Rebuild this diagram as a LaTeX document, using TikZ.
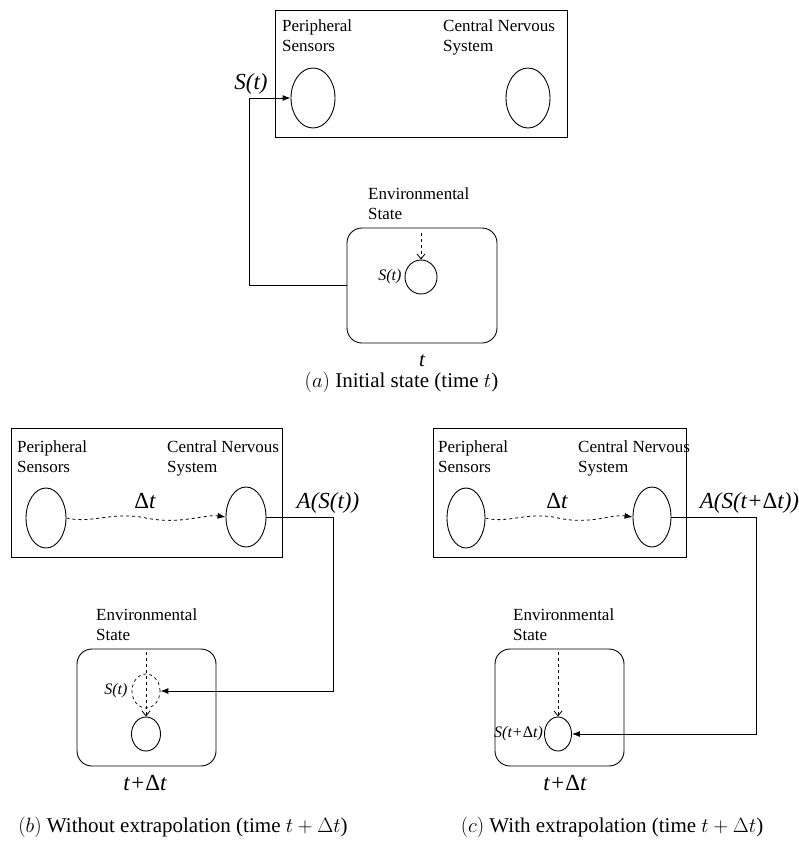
\documentclass[tikz,border=0pt]{standalone}
\usepackage{fontspec}
\setmainfont{Liberation Serif}
\usetikzlibrary{arrows.meta,positioning,shapes.geometric}
\tikzset{
  panel/.style    = {draw, line width=0.9pt, rectangle, inner sep=0pt},
  envbox/.style   = {draw, line width=0.9pt, rectangle, rounded corners=15pt, inner sep=0pt},
  unit/.style     = {draw, line width=0.9pt, ellipse, inner sep=0pt,
                     minimum width=40pt, minimum height=60pt},
  state/.style    = {draw, line width=0.9pt, ellipse, inner sep=0pt,
                     minimum width=29pt, minimum height=34pt},
  lbl/.style      = {inner sep=0pt, align=left, anchor=north west,
                     font=\fontsize{17}{20}\selectfont},
  biglbl/.style   = {inner sep=0pt, font=\fontsize{23}{26}\selectfont\itshape},
  smalllbl/.style = {inner sep=0pt, anchor=east, font=\fontsize{16}{18}\selectfont\itshape},
  caplbl/.style   = {inner sep=0pt, anchor=base, font=\fontsize{21}{24}\selectfont},
  sig/.style      = {-{Latex[length=8pt,width=6pt]}, line width=0.9pt},
  probe/.style    = {-{Straight Barb[length=5pt,width=8pt]}, dashed, line width=0.8pt},
  delay/.style    = {-{Latex[length=8pt,width=6pt]}, dashed, line width=0.8pt},
}
\newcommand{\dlt}{\textup{Δ}t}

\begin{document}
\begin{tikzpicture}[x=1pt,y=-1pt]
\useasboundingbox (0,0) rectangle (799,841);
% (a) initial state
\node[panel,minimum width=292pt,minimum height=127pt] (nervA) at (421,73.5) {};
\node[lbl] (psTxtA) at (282,20) {Peripheral\\Sensors};
\node[lbl] (cnsTxtA) at (443,20) {Central Nervous\\System};
\node[unit,minimum width=44pt] (psA) at (313,98) {};
\node[unit,minimum width=44pt] (cnsA) at (528,98) {};
\node[biglbl] (sA) at (251,84) {S(t)};
\node[envbox,minimum width=150pt,minimum height=115pt] (envA) at (422,285.5) {};
\node[lbl] (envTxtA) at (368,188) {Environmental\\State};
\node[state,minimum width=32pt] (stA) at (421,277) {};
\node[smalllbl] (stTxtA) at ([xshift=-3pt]stA.west) {S(t)};
\coordinate (inA) at (421,233);
\draw[probe] (inA) -- (stA.north);
\draw[sig] (envA.west) -- ++(-97,0) |- (psA.west);
\node[biglbl,anchor=base,font=\fontsize{21}{24}\selectfont\itshape] (tA) at (422,366) {t};
\node[caplbl] (capA) at (401.5,387) {$(a)$ Initial state (time $t$)};

% (b) without extrapolation
\node[panel,minimum width=271pt,minimum height=129pt] (nervB) at (146.5,492.5) {};
\node[lbl] (psTxtB) at (17,440) {Peripheral\\Sensors};
\node[lbl] (cnsTxtB) at (167,440) {Central Nervous\\System};
\node[unit] (psB) at (46,518) {};
\node[unit] (cnsB) at (246,517) {};
\node[biglbl] (dtB) at (145,501) {\dlt};
\coordinate (waveB) at (146,518);
\draw[delay] (psB.east) .. controls (92,524) and (112,511) .. (waveB)
  .. controls (180,525) and (205,514) .. (cnsB.west);
\node[biglbl] (actB) at (328,503) {A(S(t))};
\coordinate (turnB) at (333,517);
\node[envbox,minimum width=139pt,minimum height=117pt] (envB) at (146.5,707.5) {};
\node[lbl] (envTxtB) at (96,608) {Environmental\\State};
\node[state,dashed,line width=0.7pt,minimum width=28pt] (ghostB) at (146,691) {};
\node[state] (stB) at (146,734) {};
\node[smalllbl] (stTxtB) at ([xshift=-4pt]ghostB.west) {S(t)};
\coordinate (inB) at (146,652);
\draw[probe] (inB) -- (stB.north);
\draw[sig] (cnsB.east) -- (turnB) |- (ghostB.east);
\node[biglbl] (tB) at (145,783) {t+\dlt};
\node[caplbl] (capB) at (183,832) {$(b)$ Without extrapolation (time $t+\Delta t$)};

% (c) with extrapolation
\node[panel,minimum width=253pt,minimum height=129pt] (nervC) at (559.5,492.5) {};
\node[lbl] (psTxtC) at (438,440) {Peripheral\\Sensors};
\node[lbl] (cnsTxtC) at (578,440) {Central Nervous\\System};
\node[unit,minimum width=38pt] (psC) at (466,518) {};
\node[unit,minimum width=38pt] (cnsC) at (652,517) {};
\node[biglbl] (dtC) at (557,501) {\dlt};
\coordinate (waveC) at (558,518);
\draw[delay] (psC.east) .. controls (508,524) and (528,511) .. (waveC)
  .. controls (590,525) and (612,514) .. (cnsC.west);
\node[biglbl] (actC) at (749.5,503) {A(S(t+\dlt))};
\coordinate (turnC) at (756,517);
\node[envbox,minimum width=129pt,minimum height=117pt] (envC) at (559.5,707.5) {};
\node[lbl] (envTxtC) at (513,608) {Environmental\\State};
\node[state,minimum width=27pt] (stC) at (558,734) {};
\node[smalllbl] (stTxtC) at ([xshift=-1pt]stC.west) {S(t+\dlt)};
\coordinate (inC) at (558,652);
\draw[probe] (inC) -- (stC.north);
\draw[sig] (cnsC.east) -- (turnC) |- (stC.east);
\node[biglbl] (tC) at (565,783) {t+\dlt};
\node[caplbl] (capC) at (612,832) {$(c)$ With extrapolation (time $t+\Delta t$)};
\end{tikzpicture}
\end{document}
